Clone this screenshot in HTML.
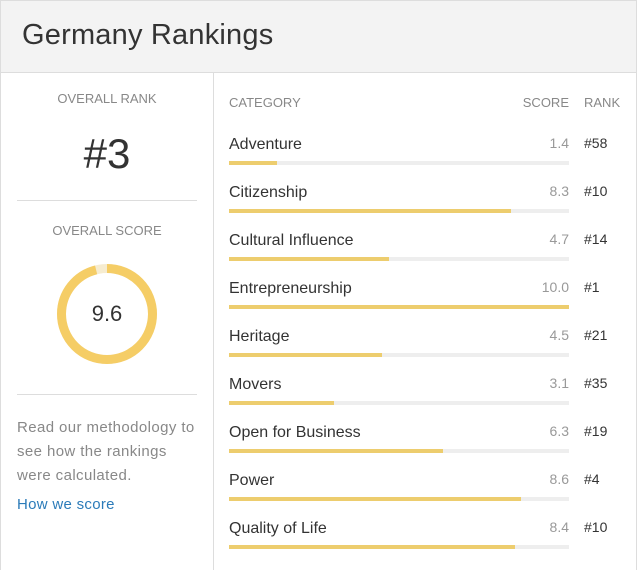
<!DOCTYPE html><html><head><style>
body{margin:0;width:637px;height:570px;background:#fff;font-family:"Liberation Sans",sans-serif;position:relative;overflow:hidden}
.a{position:absolute;white-space:nowrap}
.hd{position:absolute;left:0;top:0;width:635px;height:71px;background:#f3f3f3;border:1px solid #ddd}
.cat{font-size:16px;color:#333}
.sc{font-size:14px;color:#999;text-align:right;width:60px}
.rk{font-size:14px;color:#333}
.bar{position:absolute;left:229px;width:340px;height:4px;background:#eee}
.bar i{display:block;height:4px;background:#edcd6e}
</style></head><body>
<div class="hd"></div>
<div class="a" style="left:22px;top:19px;font-size:29px;color:#333;letter-spacing:0.2px">Germany Rankings</div>
<div class="a" style="left:0;top:72px;width:1px;height:498px;background:#ddd"></div>
<div class="a" style="left:636px;top:72px;width:1px;height:498px;background:#ddd"></div>
<div class="a" style="left:213px;top:72px;width:1px;height:498px;background:#ddd"></div>
<div class="a" style="left:0;top:91px;width:214px;text-align:center;font-size:13px;color:#888">OVERALL RANK</div>
<div class="a" style="left:0;top:130px;width:214px;text-align:center;font-size:42px;color:#333">#3</div>
<div class="a" style="left:17px;top:200px;width:180px;height:1px;background:#ddd"></div>
<div class="a" style="left:0;top:223px;width:214px;text-align:center;font-size:13px;color:#888">OVERALL SCORE</div>
<svg class="a" style="left:57px;top:264px" width="100" height="100"><circle cx="50" cy="50" r="45.5" fill="none" stroke="#f6ecd0" stroke-width="9"/><circle cx="50" cy="50" r="45.5" fill="none" stroke="#f5cd66" stroke-width="9" stroke-dasharray="274.4 300" transform="rotate(-90 50 50)"/></svg>
<div class="a" style="left:57px;top:301px;width:100px;text-align:center;font-size:22px;color:#333">9.6</div>
<div class="a" style="left:17px;top:394px;width:180px;height:1px;background:#ddd"></div>
<div class="a" style="left:17px;top:416px;font-size:15px;line-height:24px;color:#888;letter-spacing:0.4px">Read our methodology to<br>see how the rankings<br>were calculated.</div>
<div class="a" style="left:17px;top:496px;font-size:15px;color:#2b7bb9;letter-spacing:0.3px">How we score</div>
<div class="a" style="left:229px;top:95px;font-size:13px;color:#888">CATEGORY</div>
<div class="a" style="left:509px;top:95px;width:60px;text-align:right;font-size:13px;color:#888">SCORE</div>
<div class="a" style="left:584px;top:95px;font-size:13px;color:#888">RANK</div>
<div id="rows"></div>
<script>
var d=[["Adventure",1.4,"#58"],["Citizenship",8.3,"#10"],["Cultural Influence",4.7,"#14"],["Entrepreneurship",10.0,"#1"],["Heritage",4.5,"#21"],["Movers",3.1,"#35"],["Open for Business",6.3,"#19"],["Power",8.6,"#4"],["Quality of Life",8.4,"#10"]];
var h="";d.forEach(function(r,i){var y=134+i*48;
h+='<div class="a cat" style="left:229px;top:'+(y+2)+'px">'+r[0]+'</div><div class="a sc" style="left:509px;top:'+(y+1)+'px">'+r[1].toFixed(1)+'</div><div class="a rk" style="left:584px;top:'+(y+1)+'px">'+r[2]+'</div><div class="bar" style="top:'+(y+27)+'px"><i style="width:'+(r[1]*34)+'px"></i></div>';});
document.getElementById("rows").innerHTML=h;
</script>
</body></html>
